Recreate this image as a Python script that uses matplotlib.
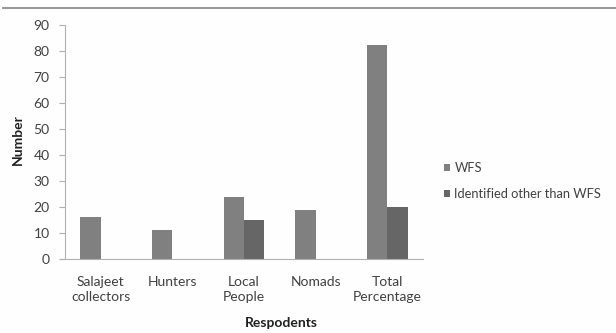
import numpy as np
import matplotlib
matplotlib.use('Agg')
import matplotlib.pyplot as plt
from matplotlib.lines import Line2D

plt.rcParams['font.family'] = ['Lato', 'DejaVu Sans']

# Respondent groups and counts
categories = ['Salajeet\ncollectors', 'Hunters', 'Local\nPeople', 'Nomads', 'Total\nPercentage']
wfs = [16, 11, 24, 19, 82.5]
other = [0, 0, 15, 0, 20]
series_names = ['WFS', 'Identified other than WFS']

W, H = 616, 333
fig = plt.figure(figsize=(W/100, H/100), dpi=100)
fig.patch.set_facecolor('#fefefe')

# plot area in pixel coords
x0, x1, y0, y1 = 65, 423, 259, 25
ax = fig.add_axes([x0/W, 1 - y0/H, (x1 - x0)/W, (y0 - y1)/H])
ax.set_facecolor('none')

text_col = '#404040'
fs = 10
n = len(categories)
x = np.arange(n)
w = 1/3.5
ax.bar(x - w/2, wfs, w, color='#808080', label=series_names[0])
ax.bar(x + w/2, other, w, color='#666666', label=series_names[1])

ax.set_xlim(-0.5, n - 0.5)
ax.set_ylim(0, 90)
ax.set_yticks(range(0, 91, 10))
ax.set_xticks(x)
ax.set_xticklabels(categories, fontsize=fs, color=text_col, linespacing=1.35)

for s in ['top', 'right']:
    ax.spines[s].set_visible(False)
for s in ['left', 'bottom']:
    ax.spines[s].set_color('#b0b0b0')
    ax.spines[s].set_linewidth(0.8)
ax.spines['bottom'].set_bounds(-0.5 - 5/71.6, n - 0.5)

ax.tick_params(axis='y', length=4, width=0.8, color='#b0b0b0', labelsize=fs,
               labelcolor=text_col, pad=7)
ax.tick_params(axis='x', length=0, pad=12)

fig.text(18/W, 1 - 140/H, 'Number', rotation=90, ha='center', va='center',
         fontsize=fs, fontweight='bold', color='#202020')
fig.text(281/W, 1 - 323/H, 'Respodents', ha='center', va='center',
         fontsize=fs, fontweight='bold', color='#202020')

fig.legend(loc='center left', bbox_to_anchor=(444/W, 1 - 181/H), frameon=False,
           fontsize=9.3, labelcolor=text_col, handlelength=0.5, handleheight=0.5,
           handletextpad=0.3, labelspacing=1.1, borderaxespad=0, borderpad=0)

# rule across the top of the figure
fig.add_artist(Line2D([3/W, 1], [1 - 8/H, 1 - 8/H], color='#8c8c8c', linewidth=1.3,
                      transform=fig.transFigure))

fig.savefig('out.png', dpi=100, facecolor=fig.get_facecolor())
